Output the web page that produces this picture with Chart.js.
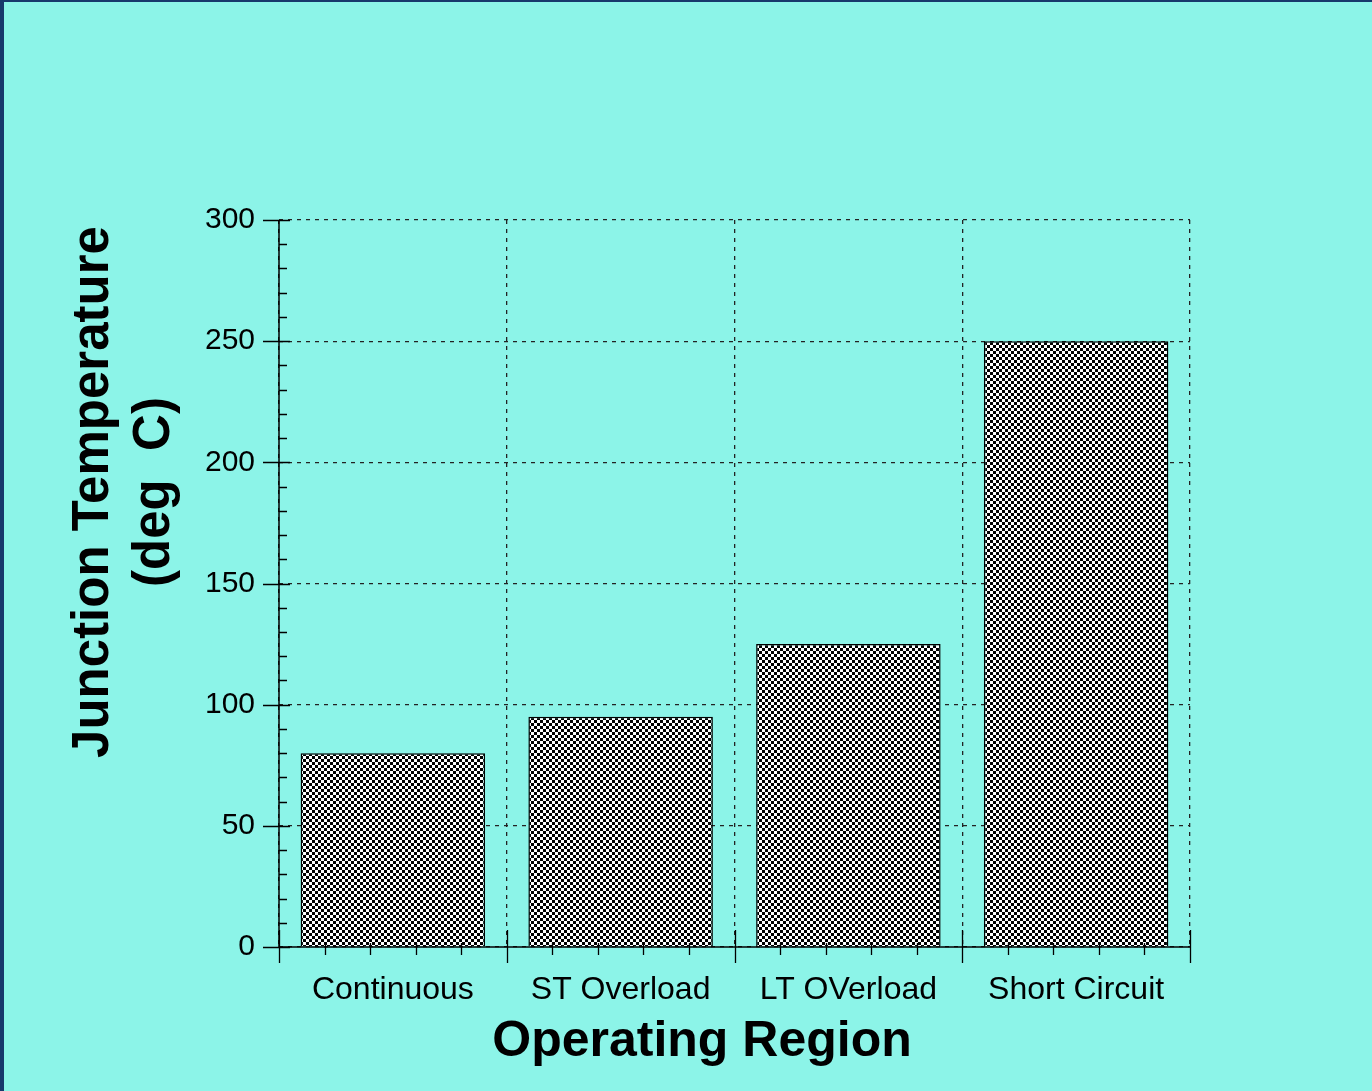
<!DOCTYPE html>
<html>
<head>
<meta charset="utf-8">
<title>Junction Temperature by Operating Region</title>
<script src="https://cdn.jsdelivr.net/npm/chart.js@4.4.1/dist/chart.umd.min.js"></script>
<style>
    html, body {
        margin: 0;
        padding: 0;
        width: 1372px;
        height: 1091px;
        overflow: hidden;
        background: #8cf4e8;
    }
    #frame-left {
        position: absolute;
        left: 0;
        top: 0;
        width: 4px;
        height: 1091px;
        background: #17396c;
    }
    #frame-top {
        position: absolute;
        left: 0;
        top: 0;
        width: 1372px;
        height: 2px;
        background: #17396c;
    }
    #temp-chart {
        position: absolute;
        left: 0;
        top: 0;
    }
</style>
</head>
<body>
<canvas id="temp-chart" width="1372" height="1091"></canvas>
<div id="frame-left"></div>
<div id="frame-top"></div>
<script>
const regions = ['Continuous', 'ST Overload', 'LT OVerload', 'Short Circuit'];
const junctionTemps = [80, 95, 125, 250];
const yTicks = [0, 50, 100, 150, 200, 250, 300];

const FONT = '"Liberation Sans", Arial, sans-serif';

// 3px black/white checkerboard fill for the bars
function checkerPattern(cell) {
    const c = document.createElement('canvas');
    c.width = cell * 2;
    c.height = cell * 2;
    const g = c.getContext('2d');
    g.fillStyle = '#ffffff';
    g.fillRect(0, 0, c.width, c.height);
    g.fillStyle = '#000000';
    g.fillRect(0, 0, cell, cell);
    g.fillRect(cell, cell, cell, cell);
    return g.createPattern(c, 'repeat');
}

// axis ticks: long crossing ticks at major positions, short ones between
const axisTicks = {
    id: 'axisTicks',
    afterDatasetsDraw(chart) {
        const ctx = chart.ctx;
        const xs = chart.scales.x;
        const ys = chart.scales.y;
        const left = chart.chartArea.left;
        const bottom = chart.chartArea.bottom;
        ctx.save();
        ctx.strokeStyle = '#000';
        ctx.lineWidth = 1.5;

        // axis lines
        ctx.beginPath();
        ctx.moveTo(left, chart.chartArea.top);
        ctx.lineTo(left, bottom);
        ctx.moveTo(left, bottom);
        ctx.lineTo(chart.chartArea.right, bottom);
        ctx.stroke();

        ctx.lineWidth = 1.3;
        ctx.beginPath();
        for (let v = ys.min; v <= ys.max; v += 10) {
            const y = Math.round(ys.getPixelForValue(v)) + 0.5;
            if (v % 50 === 0) {
                ctx.moveTo(left - 16, y);
                ctx.lineTo(left + 11, y);
            } else {
                ctx.moveTo(left, y);
                ctx.lineTo(left + 8, y);
            }
        }
        const step = (chart.chartArea.right - left) / regions.length;
        for (let i = 0; i <= regions.length; i++) {
            const x0 = xs.getPixelForValue(i) - step / 2;
            ctx.moveTo(Math.round(x0) + 0.5, bottom - 17);
            ctx.lineTo(Math.round(x0) + 0.5, bottom + 16);
            if (i < regions.length) {
                for (let k = 1; k < 5; k++) {
                    const xm = Math.round(x0 + step * k / 5) + 0.5;
                    ctx.moveTo(xm, bottom - 4);
                    ctx.lineTo(xm, bottom + 8);
                }
            }
        }
        ctx.stroke();
        ctx.restore();
    }
};

// axis titles placed beside the plot
const axisTitles = {
    id: 'axisTitles',
    afterDraw(chart) {
        const ctx = chart.ctx;
        ctx.save();
        ctx.fillStyle = '#000';
        ctx.textAlign = 'center';
        ctx.textBaseline = 'alphabetic';
        ctx.font = 'bold 50px ' + FONT;
        ctx.fillText('Operating Region', 702, 1056);

        ctx.font = 'bold 51px ' + FONT;
        ctx.translate(0, 492);
        ctx.rotate(-Math.PI / 2);
        ctx.fillText('Junction Temperature', 0, 108);
        ctx.fillText('(deg  C)', 0, 169);
        ctx.restore();
    }
};

const ctx = document.getElementById('temp-chart');

new Chart(ctx, {
    type: 'bar',
    data: {
        labels: regions,
        datasets: [
            {
                label: 'Junction Temperature',
                data: junctionTemps,
                backgroundColor: checkerPattern(3),
                borderColor: '#000',
                borderWidth: 1.5,
                borderSkipped: 'bottom',
                barPercentage: 0.81,
                categoryPercentage: 1
            }
        ]
    },
    options: {
        responsive: false,
        animation: false,
        events: [],
        layout: {
            padding: { left: 0, top: 220, right: 182, bottom: 84 }
        },
        plugins: {
            legend: { display: false },
            tooltip: { enabled: false }
        },
        scales: {
            x: {
                afterFit: scale => { scale.height = 60; },
                grid: {
                    color: '#222',
                    lineWidth: 1.3,
                    drawTicks: false
                },
                border: { display: false, dash: [4, 5] },
                ticks: {
                    color: '#000',
                    padding: 24,
                    font: { family: FONT, size: 32 }
                }
            },
            y: {
                min: 0,
                max: 300,
                afterFit: scale => { scale.width = 279; },
                afterBuildTicks: scale => {
                    scale.ticks = yTicks.map(v => ({ value: v }));
                },
                grid: {
                    color: '#222',
                    lineWidth: 1.3,
                    drawTicks: false
                },
                border: { display: false, dash: [4, 5] },
                ticks: {
                    color: '#000',
                    padding: 24,
                    font: { family: FONT, size: 30 }
                }
            }
        }
    },
    plugins: [axisTicks, axisTitles]
});
</script>
</body>
</html>
